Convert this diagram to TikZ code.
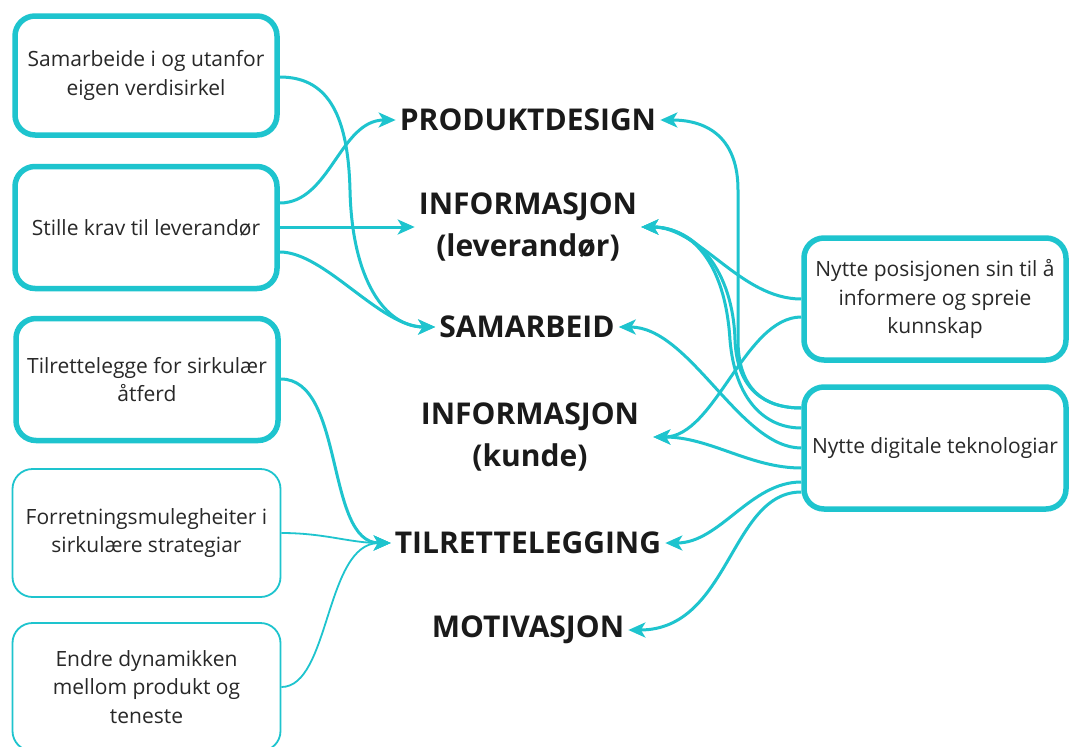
\documentclass[tikz,border=0pt]{standalone}
\usepackage{fontspec}
\setmainfont{Open Sans}
\usetikzlibrary{arrows.meta}
\definecolor{teal1}{RGB}{30,196,206}
\definecolor{txt}{RGB}{40,40,40}
\definecolor{lbl}{RGB}{26,26,26}
\tikzset{
  thickbox/.style={draw=teal1, line width=5.5pt, rounded corners=20pt, minimum width=262pt,
    minimum height=122pt, align=center, text=txt, inner sep=0pt,
    font=\fontsize{21}{28.5}\selectfont},
  thinbox/.style={thickbox, line width=1.8pt, minimum width=268pt, minimum height=128pt},
  midlabel/.style={font=\fontsize{30}{42}\selectfont\bfseries, text=lbl, align=center, inner sep=4pt},
  conn/.style={draw=teal1, line width=3pt, -{Stealth[length=17pt,width=15pt,inset=4.5pt]}},
  thinconn/.style={conn, line width=1.8pt}
}
\begin{document}
\begin{tikzpicture}[x=1pt,y=-1pt]
\fill[white] (0,0) rectangle (1069,747);
\useasboundingbox (0,0) rectangle (1069,747);
% left boxes
\node[thickbox, minimum height=119pt] (b1) at (146,75.5) {Samarbeide i og utanfor\\eigen verdisirkel};
\node[thickbox] (b2) at (146,227.5) {Stille krav til leverandør};
\node[thickbox] (b3) at (147,379.5) {Tilrettelegge for sirkulær\\åtferd};
\node[thinbox] (b4) at (146.5,533) {Forretningsmulegheiter i\\sirkulære strategiar};
\node[thinbox] (b5) at (146.5,687) {Endre dynamikken\\mellom produkt og\\teneste};
% right boxes
\node[thickbox] (r1) at (935,299) {Nytte posisjonen sin til å\\informere og spreie\\kunnskap};
\node[thickbox] (r2) at (935,448) {Nytte digitale teknologiar};
% middle labels
\node[midlabel] (prod) at (528,120) {PRODUKTDESIGN};
\node[midlabel] (lev) at (528,227) {INFORMASJON\\(leverandør)};
\node[midlabel] (sam) at (527,327) {SAMARBEID};
\node[midlabel] (kunde) at (530,437) {INFORMASJON\\(kunde)};
\node[midlabel] (tilr) at (528,543) {TILRETTELEGGING};
\node[midlabel] (motiv) at (528,630) {MOTIVASJON};
% left connectors
\draw[conn] (b1.east |- 0,77) .. controls (325,77) and (348,110) .. (350,190)
  .. controls (352,280) and (385,327) .. (sam.west);
\draw[conn] (b2.east |- 0,203) .. controls (330,203) and (340,120) .. (prod.west);
\draw[conn] (b2.east |- lev.west) -- (lev.west);
\draw[conn] (b2.east |- 0,252) .. controls (325,252) and (380,327) .. (sam.west);
\draw[conn] (b3.east |- 0,379) .. controls (345,379) and (325,543) .. (tilr.west);
\draw[thinconn] (b4.east |- 0,533) .. controls (325,533) and (350,543) .. (tilr.west);
\draw[thinconn] (b5.east |- 0,687) .. controls (330,687) and (325,543) .. (tilr.west);
% right connectors from r1
\draw[conn] (r1.west |- 0,299) .. controls (740,299) and (700,227) .. (lev.east);
\draw[conn] (r1.west |- 0,317) .. controls (745,317) and (715,437) .. ([xshift=10pt]kunde.east);
% right connectors from r2
\draw[conn] (r2.west |- 0,408) .. controls (765,408) and (738,390) .. (738,340)
  -- (738,190) .. controls (738,140) and (710,120) .. (prod.east);
\draw[conn] (r2.west |- 0,408) .. controls (765,408) and (737,390) .. (735,340)
  .. controls (733,270) and (695,227) .. (lev.east);
\draw[conn] (r2.west |- 0,428) .. controls (765,428) and (735,400) .. (730,340)
  .. controls (725,260) and (690,227) .. (lev.east);
\draw[conn] (r2.west |- 0,448) .. controls (740,448) and (690,327) .. (sam.east);
\draw[conn] (r2.west |- 0,468) .. controls (750,468) and (710,437) .. ([xshift=10pt]kunde.east);
\draw[conn] (r2.west |- 0,482) .. controls (750,482) and (720,543) .. (tilr.east);
\draw[conn] (r2.west |- 0,492) .. controls (730,492) and (730,630) .. (motiv.east);
\end{tikzpicture}
\end{document}
